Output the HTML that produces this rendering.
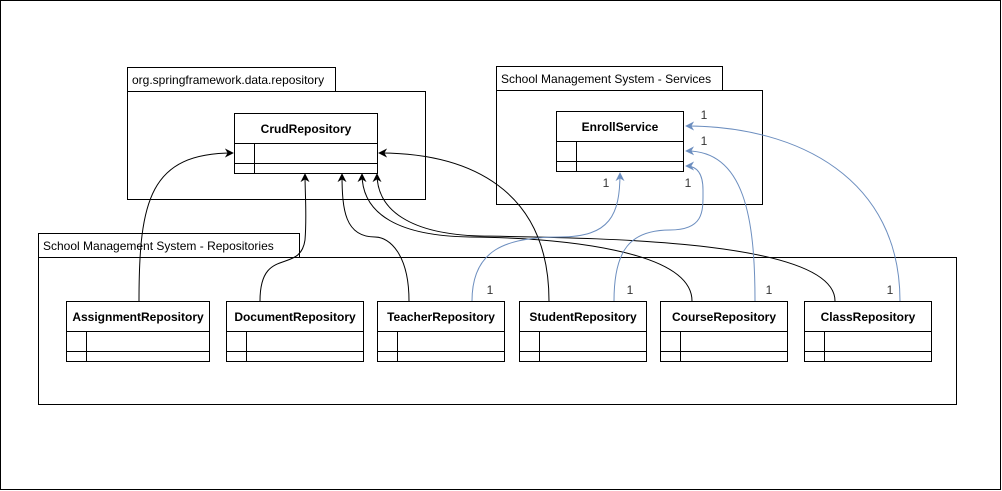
<!DOCTYPE html>
<html><head><style>
html,body{margin:0;padding:0;background:#fff;}
svg{display:block;font-family:"Liberation Sans",Arial,sans-serif;}
</style></head><body>
<svg width="1002" height="491" viewBox="0 0 1002 491" xmlns="http://www.w3.org/2000/svg">
<defs>
<marker id="ab" viewBox="0 0 10 10" refX="9" refY="5" markerWidth="9" markerHeight="9" orient="auto" markerUnits="userSpaceOnUse"><path d="M0,0 L10,5 L0,10 L3,5 Z" fill="#000"/></marker>
<marker id="au" viewBox="0 0 10 10" refX="9" refY="5" markerWidth="9" markerHeight="9" orient="auto" markerUnits="userSpaceOnUse"><path d="M0,0 L10,5 L0,10 L3,5 Z" fill="#6c8ebf"/></marker>
</defs>
<rect x="0.5" y="0.5" width="1000" height="489" fill="#fff" stroke="#000"/>
<g fill="#fff" stroke="#000">
<rect x="127.5" y="67.5" width="208" height="24"/>
<rect x="127.5" y="91.5" width="298" height="108"/>
<rect x="496.5" y="66.5" width="226" height="24"/>
<rect x="496.5" y="90.5" width="266" height="114"/>
<rect x="38.5" y="233.5" width="261" height="24"/>
<rect x="38.5" y="257.5" width="918" height="147"/>
</g>
<g font-size="12" fill="#000">
<text x="132" y="84">org.springframework.data.repository</text>
<text x="501" y="83">School Management System - Services</text>
<text x="43" y="250">School Management System - Repositories</text>
</g>
<!-- Crud -->
<g fill="none" stroke="#000">
<rect x="234.5" y="113.5" width="143" height="60" fill="#fff"/>
<line x1="234" y1="143.5" x2="378" y2="143.5"/><line x1="234" y1="163.5" x2="378" y2="163.5"/><line x1="254.5" y1="143" x2="254.5" y2="174"/>
<rect x="556.5" y="111.5" width="127" height="60" fill="#fff"/>
<line x1="556" y1="141.5" x2="684" y2="141.5"/><line x1="556" y1="161.5" x2="684" y2="161.5"/><line x1="576.5" y1="141" x2="576.5" y2="172"/>
</g>
<g font-size="12" font-weight="bold" text-anchor="middle">
<text x="306" y="133">CrudRepository</text>
<text x="620" y="131">EnrollService</text>
</g>
<!-- repos -->
<g fill="none" stroke="#000">
<rect x="66.5" y="301.5" width="143" height="60" fill="#fff"/><line x1="66" y1="331.5" x2="210" y2="331.5"/><line x1="66" y1="351.5" x2="210" y2="351.5"/><line x1="86.5" y1="331" x2="86.5" y2="362"/>
<rect x="226.5" y="301.5" width="137" height="60" fill="#fff"/><line x1="226" y1="331.5" x2="364" y2="331.5"/><line x1="226" y1="351.5" x2="364" y2="351.5"/><line x1="246.5" y1="331" x2="246.5" y2="362"/>
<rect x="377.5" y="301.5" width="127" height="60" fill="#fff"/><line x1="377" y1="331.5" x2="505" y2="331.5"/><line x1="377" y1="351.5" x2="505" y2="351.5"/><line x1="397.5" y1="331" x2="397.5" y2="362"/>
<rect x="519.5" y="301.5" width="127" height="60" fill="#fff"/><line x1="519" y1="331.5" x2="647" y2="331.5"/><line x1="519" y1="351.5" x2="647" y2="351.5"/><line x1="539.5" y1="331" x2="539.5" y2="362"/>
<rect x="660.5" y="301.5" width="127" height="60" fill="#fff"/><line x1="660" y1="331.5" x2="788" y2="331.5"/><line x1="660" y1="351.5" x2="788" y2="351.5"/><line x1="680.5" y1="331" x2="680.5" y2="362"/>
<rect x="804.5" y="301.5" width="127" height="60" fill="#fff"/><line x1="804" y1="331.5" x2="932" y2="331.5"/><line x1="804" y1="351.5" x2="932" y2="351.5"/><line x1="824.5" y1="331" x2="824.5" y2="362"/>
</g>
<g font-size="12" font-weight="bold" text-anchor="middle">
<text x="138" y="321">AssignmentRepository</text>
<text x="295" y="321">DocumentRepository</text>
<text x="441" y="321">TeacherRepository</text>
<text x="583" y="321">StudentRepository</text>
<text x="724" y="321">CourseRepository</text>
<text x="868" y="321">ClassRepository</text>
</g>
<!-- black connectors -->
<g fill="none" stroke="#000" marker-end="url(#ab)">
<path d="M139,301 C139,200 150,153 233,153"/>
<path d="M260,301 C260,245 300,275 305,240 C307,215 305,195 305,174"/>
<path d="M409,301 C409,255 390,237 375,237 C345,237 342,210 342,174"/>
<path d="M549,301 C549,190 470,153 379,153"/>
<path d="M692,301 C692,250 560,238 470,237 C400,236 362,215 362,174"/>
<path d="M835,301 C835,240 600,238 480,236 C410,234 377,210 377,174"/>
</g>
<!-- blue connectors -->
<g fill="none" stroke="#6c8ebf" marker-end="url(#au)">
<path d="M472,301 C472,250 505,237 560,237 C610,237 620,215 620,173"/>
<path d="M614,301 C614,250 630,230 670,230 C705,230 703,210 703,190 C703,172 696,166 686,166"/>
<path d="M755,301 C755,220 745,150 686,151"/>
<path d="M900,301 C900,180 800,126 686,126"/>
</g>
<g font-size="12" fill="#333" text-anchor="middle">
<text x="490" y="294">1</text>
<text x="630" y="294">1</text>
<text x="769" y="294">1</text>
<text x="890" y="294">1</text>
<text x="606" y="187">1</text>
<text x="688" y="187">1</text>
<text x="704" y="145">1</text>
<text x="704" y="119">1</text>
</g>
</svg>
</body></html>
